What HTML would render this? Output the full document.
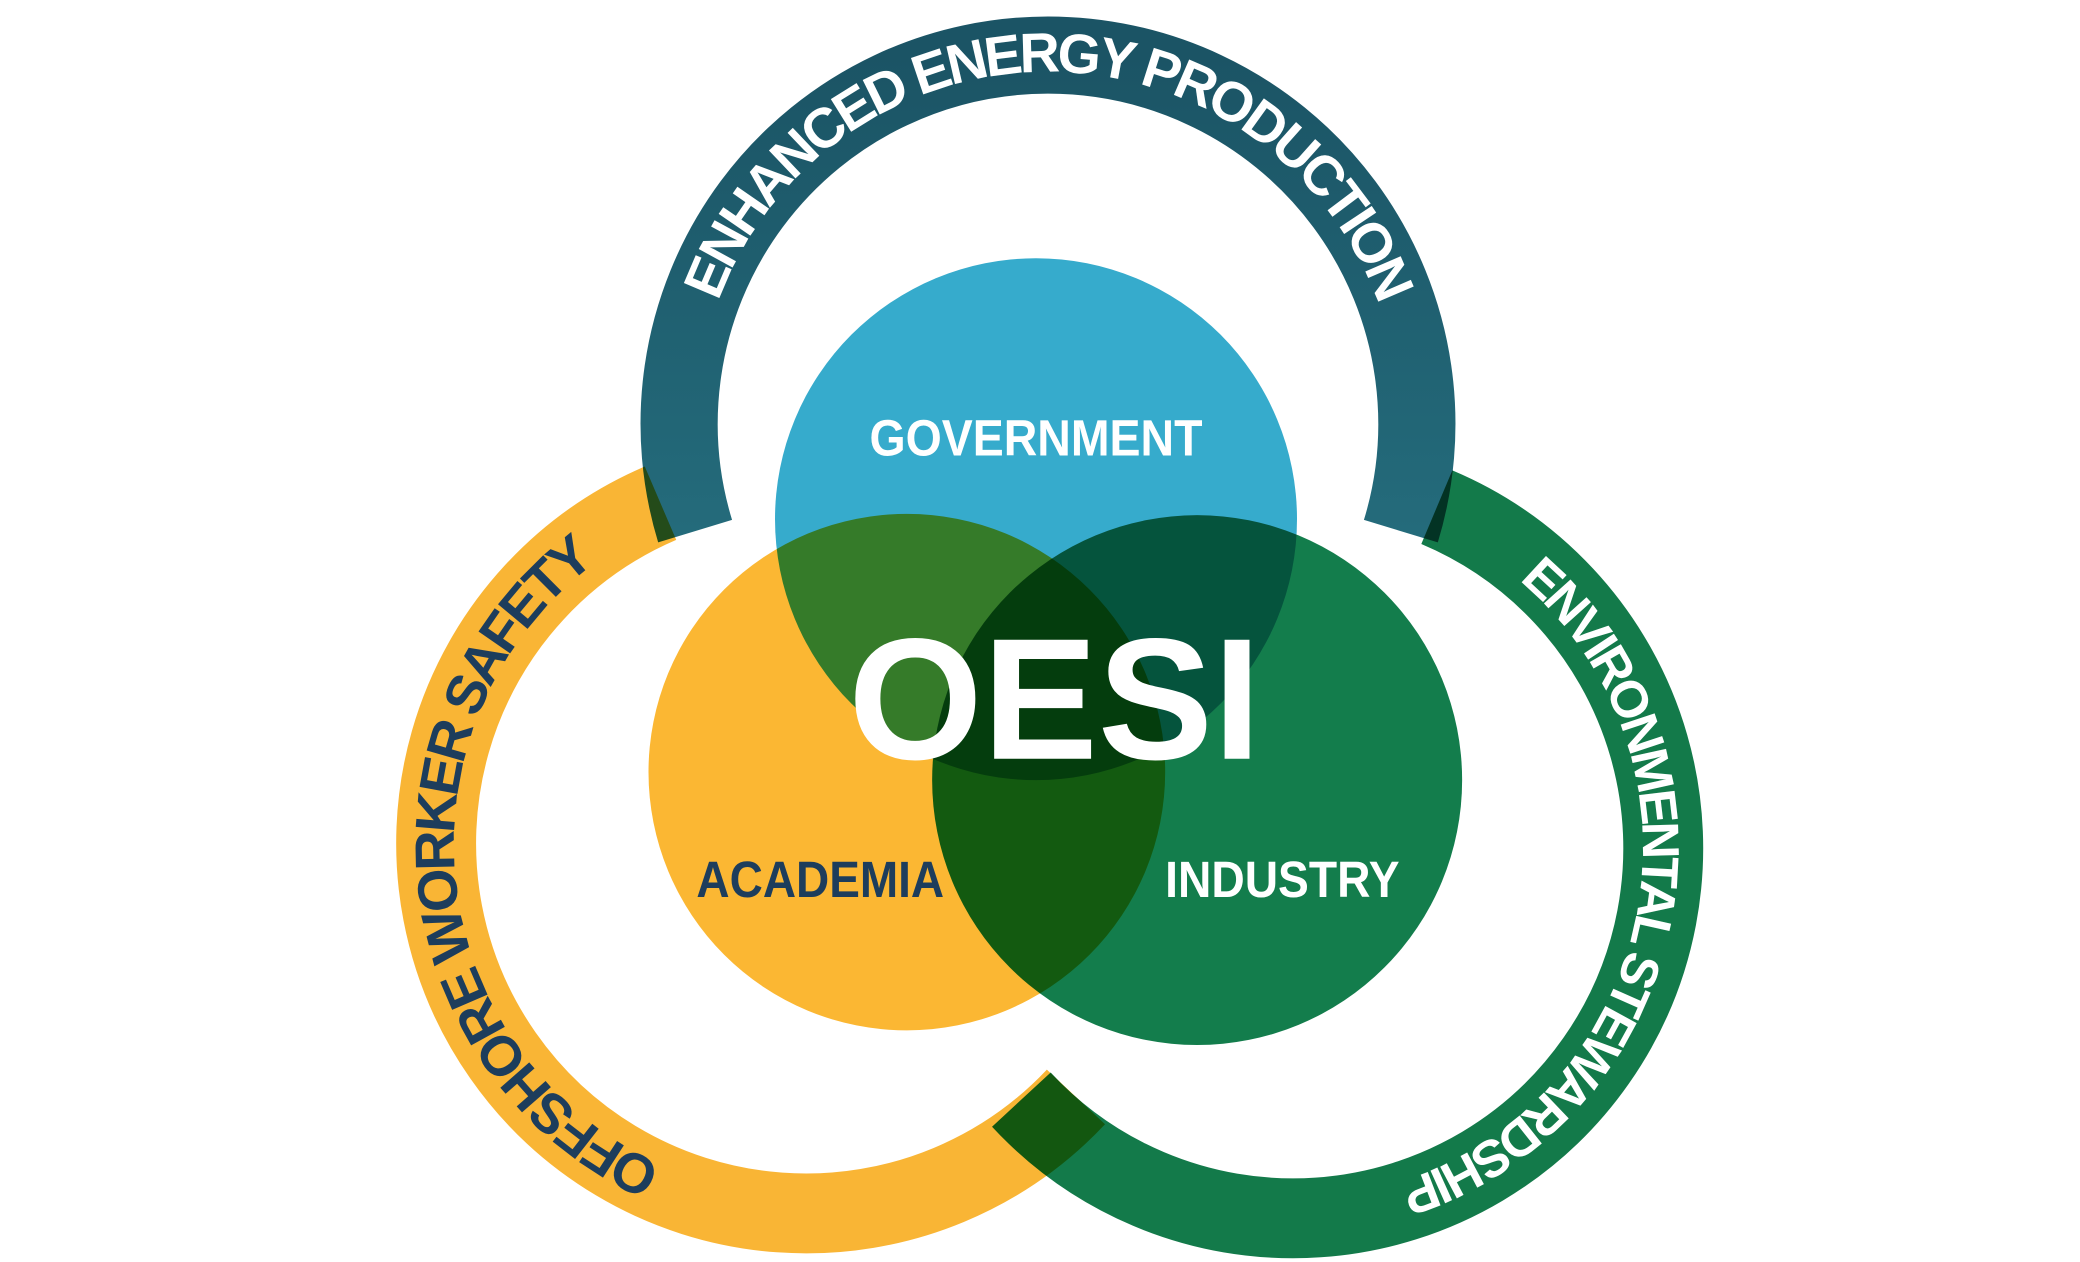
<!DOCTYPE html>
<html><head><meta charset="utf-8"><style>
html,body{margin:0;padding:0;background:#fff;}
svg{display:block;}
.b{mix-blend-mode:multiply;}
text{font-family:"Liberation Sans",sans-serif;font-weight:bold;}
</style></head><body>
<svg width="2080" height="1262" viewBox="0 0 1562 948" preserveAspectRatio="none" xmlns="http://www.w3.org/2000/svg">
<defs>
<linearGradient id="tg" x1="0" y1="0" x2="0" y2="1">
<stop offset="0" stop-color="#1b5465"/><stop offset="1" stop-color="#246b7b"/>
</linearGradient>
<path id="pt" d="M523,318 A264,264 0 0 1 1051,318"/>
<path id="pl" d="M506,879 A264,264 0 0 1 453.5,418"/>
<path id="pr" d="M1125,423.5 A264,264 0 0 1 1034,893"/>
</defs>
<rect width="1562" height="948" fill="#fff"/>
<g style="isolation:isolate">
<path class="b" d="M522,399 A277,277 0 1 1 1052,399" fill="none" stroke="url(#tg)" stroke-width="58"/>
<path class="b" d="M808,824 A278,278 0 1 1 496,378" fill="none" stroke="#f9b535" stroke-width="60"/>
<path class="b" d="M1079,381 A278,278 0 1 1 767,826" fill="none" stroke="#137a4a" stroke-width="60"/>
<circle class="b" cx="778" cy="390" r="196" fill="#36abcc"/>
<circle class="b" cx="681" cy="580" r="194" fill="#fbb733"/>
<circle class="b" cx="899" cy="586" r="199" fill="#137d4c"/>
</g>
<text font-size="42" fill="#fff" text-anchor="middle" letter-spacing="-3"><textPath href="#pt" startOffset="50%">ENHANCED ENERGY PRODUCTION</textPath></text>
<text font-size="42" fill="#1d3d5c" text-anchor="middle" letter-spacing="-3"><textPath href="#pl" startOffset="50%">OFFSHORE WORKER SAFETY</textPath></text>
<text font-size="39" fill="#fff" text-anchor="middle" letter-spacing="-3"><textPath href="#pr" startOffset="50%">ENVIRONMENTAL STEWARDSHIP</textPath></text>
<text x="778" y="342" font-size="38" fill="#fff" text-anchor="middle" textLength="250" lengthAdjust="spacingAndGlyphs">GOVERNMENT</text>
<text x="616" y="674" font-size="38" fill="#1d3d5c" text-anchor="middle" textLength="186" lengthAdjust="spacingAndGlyphs">ACADEMIA</text>
<text x="963" y="674" font-size="38" fill="#fff" text-anchor="middle" textLength="176" lengthAdjust="spacingAndGlyphs">INDUSTRY</text>
<text x="792" y="570" font-size="130" fill="#fff" text-anchor="middle" textLength="310" lengthAdjust="spacingAndGlyphs">OESI</text>
</svg>
</body></html>
